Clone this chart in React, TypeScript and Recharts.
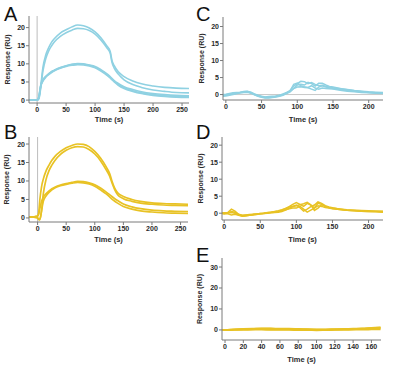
import React from "react";
import { LineChart, Line, XAxis, YAxis, ReferenceLine } from "recharts";

// ---------- Panel A (blue) ----------
const tA = [-14, -8, -3, 0, 3, 6, 10, 15, 20, 25, 30, 40, 50, 60, 70, 80, 90, 100, 110, 120, 126, 129, 133, 140, 150, 165, 180, 200, 220, 240, 262];
const aHigh1 = [0.1, 0, 0, 0, 0.5, 3.5, 9, 12.5, 14.5, 16, 17, 18.5, 19.4, 20.2, 20.7, 20.5, 19.9, 18.8, 17.2, 15, 13.5, 11, 9.5, 7.8, 6.5, 5.3, 4.5, 3.9, 3.5, 3.3, 3.2];
const aHigh2 = [0, 0, 0, 0, 0.3, 3, 8, 11.5, 13.6, 15, 16.1, 17.6, 18.6, 19.3, 19.8, 19.7, 19.2, 18.2, 16.6, 14.5, 13, 10.5, 8.8, 7.2, 5.6, 4.3, 3.5, 2.8, 2.4, 2.1, 2.0];
const aLow1 = [0, 0, 0, 0, 1, 4, 5.6, 6.6, 7.3, 7.9, 8.3, 9, 9.5, 9.9, 10.1, 10, 9.7, 9.3, 8.4, 7.3, 6.5, 6, 5.4, 4.6, 3.7, 2.9, 2.3, 1.8, 1.5, 1.3, 1.2];
const aLow2 = [0.1, 0, 0, 0, 0.8, 3.6, 5.2, 6.3, 7, 7.6, 8.1, 8.8, 9.3, 9.6, 9.8, 9.7, 9.4, 8.9, 8, 6.9, 6.1, 5.6, 5, 4.1, 3.2, 2.4, 1.8, 1.3, 1, 0.8, 0.7];
const aLow3 = [0, 0, 0, 0, 0.9, 3.8, 5.4, 6.5, 7.2, 7.8, 8.2, 8.9, 9.4, 9.8, 10, 9.9, 9.6, 9.1, 8.2, 7.1, 6.3, 5.8, 5.2, 4.3, 3.4, 2.6, 2.0, 1.5, 1.2, 1.0, 0.9];

// ---------- Panel B (gold) ----------
const tB = [-15, -8, -3, 0, 2, 4, 7, 10, 15, 20, 25, 30, 40, 50, 60, 70, 80, 90, 100, 110, 120, 126, 130, 135, 140, 150, 165, 180, 200, 220, 240, 263];
const bHigh1 = [0.3, 0.3, 0.4, 0.5, 1.5, 5, 8.5, 10.5, 12.8, 14.3, 15.6, 16.6, 18, 19, 19.6, 20, 19.9, 19.3, 18, 16.2, 13.8, 12, 10, 8, 6.8, 5.8, 5, 4.5, 4.1, 3.9, 3.8, 3.7];
const bHigh2 = [0.3, 0.2, 0.2, 0, -0.4, -0.5, 2, 6.5, 10.5, 12.8, 14.3, 15.5, 17.2, 18.3, 19, 19.3, 19.2, 18.5, 17.3, 15.5, 13, 11.3, 9.5, 7.6, 6.3, 5.2, 4.5, 4, 3.7, 3.5, 3.4, 3.3];
const bLow1 = [0.3, 0.3, 0.4, 0.5, 1, 2.5, 4.5, 5.6, 6.6, 7.3, 7.9, 8.3, 8.9, 9.3, 9.6, 9.9, 9.8, 9.5, 9, 8.1, 7, 6.3, 5.8, 5.2, 4.7, 3.8, 3, 2.5, 2.1, 1.9, 1.8, 1.7];
const bLow2 = [0.3, 0.2, 0.1, 0, -0.3, -0.3, 2, 4.5, 6, 6.9, 7.6, 8.1, 8.7, 9.1, 9.4, 9.6, 9.5, 9.2, 8.6, 7.6, 6.5, 5.7, 5.1, 4.5, 4, 3.1, 2.4, 1.9, 1.6, 1.4, 1.3, 1.2];

// ---------- Panel C (blue, noisy) ----------
const tC = [-4, 0, 5, 10, 15, 20, 25, 30, 35, 40, 45, 50, 55, 60, 65, 70, 75, 80, 85, 90, 95, 100, 105, 110, 115, 120, 125, 130, 135, 140, 145, 150, 160, 170, 180, 190, 200, 210, 220];
const c1 = [-0.3, -0.2, 0, 0.2, 0.4, 0.6, 0.8, 0.9, 0.6, 0.1, -0.3, -0.6, -0.8, -0.8, -0.7, -0.6, -0.3, 0, 0.5, 1.2, 2.5, 3.2, 3.9, 3.8, 3.2, 3.5, 3, 2.6, 2.7, 2.4, 2.2, 2, 1.7, 1.5, 1.2, 1, 0.8, 0.7, 0.6];
const c2 = [-0.5, -0.4, -0.2, 0, 0.2, 0.5, 0.7, 0.8, 0.4, -0.1, -0.5, -0.8, -1, -1, -0.9, -0.7, -0.5, -0.2, 0.3, 0.8, 1.8, 2.8, 3, 2.8, 3.6, 3.2, 2.5, 3.3, 3.3, 2.8, 2.4, 2.2, 1.8, 1.4, 1.1, 0.9, 0.7, 0.5, 0.5];
const c3 = [0, 0.1, 0.3, 0.5, 0.6, 0.7, 0.9, 1, 0.7, 0.2, -0.2, -0.5, -0.7, -0.6, -0.5, -0.4, -0.2, 0.2, 0.6, 1, 1.8, 2.2, 2.3, 2.1, 2, 1.6, 1.2, 2.2, 2.6, 2.2, 2, 1.8, 1.5, 1.2, 1, 0.8, 0.6, 0.5, 0.4];
const c4 = [-0.2, -0.1, 0.1, 0.3, 0.4, 0.5, 0.6, 0.7, 0.5, 0, -0.4, -0.7, -0.9, -0.9, -0.8, -0.6, -0.4, -0.1, 0.4, 1.1, 3, 3.4, 2.6, 2.3, 2.1, 2.6, 1.9, 1.6, 1.9, 1.8, 1.7, 1.6, 1.3, 1, 0.8, 0.6, 0.5, 0.4, 0.3];

// ---------- Panel D (gold, noisy) ----------
const tD = [-3, 0, 5, 10, 15, 20, 25, 30, 35, 40, 45, 50, 55, 60, 65, 70, 75, 80, 85, 90, 95, 100, 105, 110, 115, 120, 125, 130, 135, 140, 145, 150, 160, 170, 180, 190, 200, 210, 220];
const d1 = [0, -0.1, 0.2, 1.2, 0.6, -0.3, -0.6, -0.5, -0.4, -0.3, -0.2, -0.1, 0, 0.1, 0.3, 0.4, 0.6, 0.9, 1.3, 1.9, 2.6, 3.1, 2.6, 2, 2.9, 2.4, 1.6, 2.9, 2.6, 2, 1.7, 1.5, 1.2, 1, 0.9, 0.8, 0.7, 0.6, 0.5];
const d2 = [0.1, 0, -0.2, -0.5, -0.3, -0.6, -0.9, -0.8, -0.6, -0.5, -0.4, -0.2, -0.1, 0, 0.1, 0.2, 0.3, 0.5, 0.9, 1.4, 2, 2.4, 1.6, 0.6, 1.2, 1.9, 2.4, 3.3, 2.9, 2.2, 1.8, 1.6, 1.2, 0.9, 0.7, 0.6, 0.5, 0.4, 0.3];
const d3 = [-0.1, -0.2, 0, 0.5, 0.3, -0.4, -0.7, -0.6, -0.5, -0.4, -0.2, -0.1, 0, 0.2, 0.3, 0.5, 0.7, 1, 1.4, 1.8, 2, 2.2, 2.5, 2.8, 3.2, 2.5, 0.8, 1.5, 2.5, 2, 1.7, 1.4, 1.1, 0.9, 0.8, 0.6, 0.5, 0.5, 0.4];
const d4 = [0, 0.1, 0.1, 0.2, 0, -0.5, -0.8, -0.7, -0.6, -0.4, -0.3, -0.2, -0.1, 0.1, 0.2, 0.3, 0.5, 0.8, 1, 1.3, 1.5, 1.5, 2, 1.2, 0.3, 0.9, 1.5, 2.2, 2, 1.7, 1.5, 1.3, 1.1, 0.9, 0.8, 0.7, 0.6, 0.6, 0.6];

// ---------- Panel E (gold, flat) ----------
const tE = [-3, 0, 10, 20, 30, 40, 50, 60, 70, 80, 90, 100, 110, 120, 130, 140, 150, 160, 170];
const e1 = [0, 0, 0.3, 0.5, 0.6, 0.6, 0.6, 0.5, 0.5, 0.4, 0.3, 0.1, 0.2, 0.3, 0.4, 0.5, 0.6, 0.9, 1.1];
const e2 = [0, 0, 0.1, 0.2, 0.3, 0.4, 0.3, 0.3, 0.2, 0.2, 0.1, 0, 0, 0.1, 0.2, 0.3, 0.4, 0.6, 0.7];
const e3 = [0, -0.1, 0, 0, 0.1, 0.1, 0, 0, 0, -0.1, -0.1, -0.2, -0.1, 0, 0, 0.1, 0.1, 0.2, 0.3];
const e4 = [0, 0, 0.2, 0.4, 0.5, 0.7, 0.7, 0.6, 0.6, 0.5, 0.4, 0.3, 0.3, 0.4, 0.5, 0.6, 0.7, 1, 1.2];

// ---------- Ticks ----------
const ticksX250 = [0, 50, 100, 150, 200, 250];
const ticksX200 = [0, 50, 100, 150, 200];
const ticksX160 = [0, 20, 40, 60, 80, 100, 120, 140, 160];
const ticksY20 = [0, 5, 10, 15, 20];
const ticksY30 = [0, 5, 10, 15, 20, 25, 30];

const BLUE = "#8fd1e2";
const GOLD = "#e8c224";
const FRAME = "#a0a0a0";
const AXIS = "#7a7a7a";
const TEXT = "#2a2a2a";

const toSeries = (t: number[], y: number[]) => t.map((x, i) => ({ t: x, y: y[i] }));

type PanelProps = {
  left: number;
  top: number;
  width: number;
  height: number;
  margin: { top: number; right: number; bottom: number; left: number };
  yWidth: number;
  xHeight: number;
  xDomain: [number, number];
  yDomain: [number, number];
  xTicks: number[];
  yTicks: number[];
  times: number[];
  series: number[][];
  color: string;
  curve: "monotone" | "linear";
  refX?: boolean;
  refY?: boolean;
  yLabelOffset: number;
  strokeWidth?: number;
};

function Panel(p: PanelProps) {
  const tickStyle = { fontSize: 7, fill: TEXT, fontWeight: 700 };
  return (
    <div style={{ position: "absolute", left: p.left, top: p.top }}>
      <LineChart width={p.width} height={p.height} margin={p.margin}>
        <XAxis
          xAxisId="main"
          dataKey="t"
          type="number"
          domain={p.xDomain}
          ticks={p.xTicks}
          allowDataOverflow
          height={p.xHeight}
          tick={tickStyle}
          tickSize={3}
          tickMargin={1}
          stroke={AXIS}
          label={{ value: "Time (s)", position: "insideBottom", offset: 1, style: { fontSize: 7.5, fontWeight: 700, fill: TEXT } }}
        />
        <XAxis
          xAxisId="top"
          orientation="top"
          type="number"
          domain={p.xDomain}
          allowDataOverflow
          height={0}
          tick={false}
          tickLine={false}
          axisLine={{ stroke: FRAME }}
        />
        <YAxis
          yAxisId="main"
          type="number"
          domain={p.yDomain}
          ticks={p.yTicks}
          allowDataOverflow
          width={p.yWidth}
          tick={tickStyle}
          tickSize={3}
          tickMargin={1}
          stroke={AXIS}
          label={{
            value: "Response (RU)",
            angle: -90,
            position: "insideLeft",
            offset: p.yLabelOffset,
            style: { textAnchor: "middle", fontSize: 7, fontWeight: 700, fill: TEXT },
          }}
        />
        <YAxis
          yAxisId="right"
          orientation="right"
          type="number"
          domain={p.yDomain}
          allowDataOverflow
          width={0}
          tick={false}
          tickLine={false}
          axisLine={{ stroke: FRAME }}
        />
        {p.refX && <ReferenceLine xAxisId="main" yAxisId="main" x={0} stroke="#bdbdbd" strokeWidth={1} />}
        {p.refY && <ReferenceLine xAxisId="main" yAxisId="main" y={0} stroke="#c8c8c8" strokeWidth={1} />}
        {p.series.map((s, i) => (
          <Line
            key={i}
            xAxisId="main"
            yAxisId="main"
            data={toSeries(p.times, s)}
            dataKey="y"
            type={p.curve}
            stroke={p.color}
            strokeWidth={p.strokeWidth ?? 1.5}
            dot={false}
            isAnimationActive={false}
          />
        ))}
      </LineChart>
    </div>
  );
}

export default function App() {
  return (
    <div
      style={{
        position: "absolute",
        left: 0,
        top: 0,
        width: 393,
        height: 367,
        background: "#fff",
        overflow: "hidden",
        fontFamily: "'Liberation Sans', Arial, sans-serif",
      }}
    >
      <Panel
        left={0}
        top={0}
        width={195}
        height={125}
        margin={{ top: 16, right: 6, bottom: 2, left: 0 }}
        yWidth={29}
        xHeight={20}
        xDomain={[-14, 262]}
        yDomain={[-0.8, 23.2]}
        xTicks={ticksX250}
        yTicks={ticksY20}
        times={tA}
        series={[aHigh1, aHigh2, aLow1, aLow2, aLow3]}
        color={BLUE}
        curve="monotone"
        refX
        yLabelOffset={8}
        strokeWidth={1.6}
      />
      <Panel
        left={0}
        top={120}
        width={195}
        height={125}
        margin={{ top: 17, right: 7, bottom: 2, left: 0 }}
        yWidth={29}
        xHeight={21}
        xDomain={[-15, 263]}
        yDomain={[-1.1, 21.9]}
        xTicks={ticksX250}
        yTicks={ticksY20}
        times={tB}
        series={[bHigh1, bHigh2, bLow1, bLow2]}
        color={GOLD}
        curve="monotone"
        refX
        yLabelOffset={7}
        strokeWidth={1.7}
      />
      <Panel
        left={195}
        top={0}
        width={198}
        height={125}
        margin={{ top: 17, right: 10, bottom: 2, left: 0 }}
        yWidth={28}
        xHeight={23}
        xDomain={[-4, 220]}
        yDomain={[-1.6, 22.8]}
        xTicks={ticksX200}
        yTicks={ticksY20}
        times={tC}
        series={[c1, c2, c3, c4]}
        color={BLUE}
        curve="linear"
        refY
        yLabelOffset={7}
        strokeWidth={1.5}
      />
      <Panel
        left={195}
        top={120}
        width={198}
        height={125}
        margin={{ top: 17, right: 10, bottom: 2, left: 0 }}
        yWidth={27}
        xHeight={23}
        xDomain={[-3, 220]}
        yDomain={[-2, 22.4]}
        xTicks={ticksX200}
        yTicks={ticksY20}
        times={tD}
        series={[d1, d2, d3, d4]}
        color={GOLD}
        curve="linear"
        yLabelOffset={6}
        strokeWidth={1.5}
      />
      <Panel
        left={195}
        top={240}
        width={198}
        height={127}
        margin={{ top: 18, right: 12, bottom: 4, left: 0 }}
        yWidth={27}
        xHeight={23}
        xDomain={[-3.3, 170.5]}
        yDomain={[-4.8, 34.3]}
        xTicks={ticksX160}
        yTicks={ticksY30}
        times={tE}
        series={[e1, e2, e3, e4]}
        color={GOLD}
        curve="monotone"
        yLabelOffset={5}
        strokeWidth={1.7}
      />
      <svg
        width={393}
        height={367}
        style={{ position: "absolute", left: 0, top: 0, pointerEvents: "none" }}
      >
        <text x={4} y={21} fontSize={20} fill="#111">A</text>
        <text x={4} y={139} fontSize={20} fill="#111">B</text>
        <text x={196} y={21} fontSize={20} fill="#111">C</text>
        <text x={196} y={139} fontSize={20} fill="#111">D</text>
        <text x={196} y={262} fontSize={20} fill="#111">E</text>
      </svg>
    </div>
  );
}
